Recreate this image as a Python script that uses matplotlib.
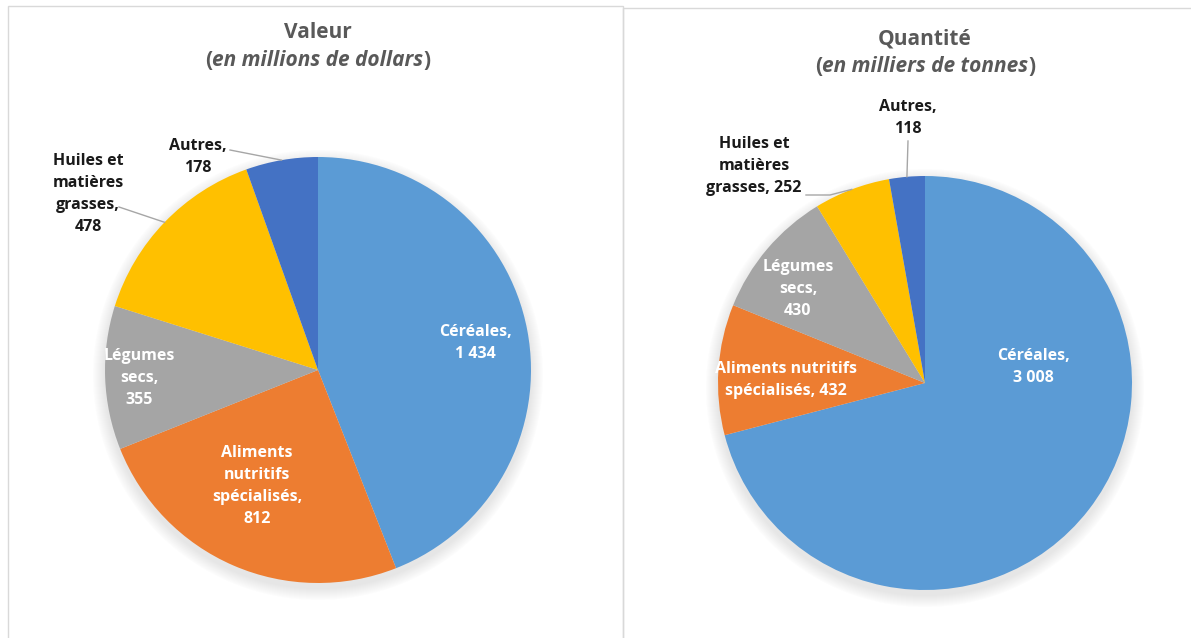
import numpy as np
import matplotlib.pyplot as plt
from matplotlib.patches import Circle, Rectangle

W, H = 1191, 638

categories = ["Céréales", "Aliments nutritifs spécialisés", "Légumes secs",
              "Huiles et matières grasses", "Autres"]
valeur = [1434, 812, 355, 478, 178]
quantite = [3008, 432, 430, 252, 118]

colors = ["#5B9BD5", "#ED7D31", "#A5A5A5", "#FFC000", "#4472C4"]
label_colors = ["white", "white", "white", "#1a1a1a", "#1a1a1a"]

# label texts as they are broken in each chart
labels_left = ["Céréales,\n1 434", "Aliments\nnutritifs\nspécialisés,\n812",
               "Légumes\nsecs,\n355", "Huiles et\nmatières\ngrasses,\n478",
               "Autres,\n178"]
labels_right = ["Céréales,\n3 008", "Aliments nutritifs\nspécialisés, 432",
                "Légumes\nsecs,\n430", "Huiles et\nmatières\ngrasses, 252",
                "Autres,\n118"]

# layout in image pixels (x right, y down)
left_pie = dict(cx=318, cy=370, r=213)
right_pie = dict(cx=925, cy=383, r=207)
left_pos = [(475, 343), (257, 486), (139, 378), (88, 194), (198, 157)]
right_pos = [(1033, 367), (786, 380), (798, 289), (754, 166), (908, 118)]

plt.rcParams["font.family"] = ["Open Sans", "DejaVu Sans"]

fig = plt.figure(figsize=(W / 100, H / 100), dpi=100)
ax = fig.add_axes([0, 0, 1, 1])


def fy(y):
    return H - y


def edge_point(pie, values, i):
    total = float(sum(values))
    start = 90 - 360 * sum(values[:i]) / total
    mid = start - 180 * values[i] / total
    a = np.deg2rad(mid)
    return pie["cx"] + pie["r"] * np.cos(a), pie["cy"] - pie["r"] * np.sin(a)


def draw_pie(pie, values, labels, positions):
    cx, cy, r = pie["cx"], fy(pie["cy"]), pie["r"]
    # soft shadow
    for k in range(12):
        ax.add_patch(Circle((cx, cy - 5), r + 12 - k, color="#7f7f7f",
                            alpha=0.016, lw=0, zorder=1))
    ax.pie(values, colors=colors, startangle=90, counterclock=False,
           center=(cx, cy), radius=r, wedgeprops=dict(linewidth=0, zorder=2))
    for lab, (x, y), c in zip(labels, positions, label_colors):
        ax.text(x, fy(y), lab, ha="center", va="center", color=c,
                fontsize=11.5, fontweight="bold", linespacing=1.5, zorder=5)


draw_pie(left_pie, valeur, labels_left, left_pos)
draw_pie(right_pie, quantite, labels_right, right_pos)

line_kw = dict(color="#a6a6a6", lw=1, zorder=4)
# leader lines, left chart
x1, y1 = edge_point(left_pie, valeur, 4)
ax.plot([230, x1], [fy(150), fy(y1)], **line_kw)
x1, y1 = edge_point(left_pie, valeur, 3)
ax.plot([119, x1], [fy(207), fy(y1)], **line_kw)
# leader lines, right chart
x1, y1 = edge_point(right_pie, quantite, 4)
ax.plot([908, x1], [fy(141), fy(y1)], **line_kw)
x1, y1 = edge_point(right_pie, quantite, 3)
ax.plot([806, 830, x1], [fy(195), fy(195), fy(y1)], **line_kw)

# panel borders
ax.add_patch(Rectangle((8, -2), 615, fy(6) + 2, fill=False, ec="#d9d9d9",
                       lw=1, zorder=0))
ax.add_patch(Rectangle((623, -2), 600, fy(8) + 2, fill=False, ec="#d9d9d9",
                       lw=1, zorder=0))

title_kw = dict(ha="center", va="center", color="#595959", fontsize=15,
                fontweight="bold")
ax.text(318, fy(32), "Valeur", **title_kw)
ax.text(925, fy(39), "Quantité", **title_kw)

ax.set_xlim(0, W)
ax.set_ylim(0, H)
ax.set_aspect("equal")
ax.axis("off")

fig.canvas.draw()
renderer = fig.canvas.get_renderer()
for x, y, s in [(318, 61, "en millions de dollars"),
                (925, 67, "en milliers de tonnes")]:
    t = ax.text(x, fy(y), s, style="italic", **title_kw)
    bb = t.get_window_extent(renderer)
    kw = dict(title_kw)
    kw.pop("ha")
    ax.text(bb.x0, fy(y), "(", ha="right", **kw)
    ax.text(bb.x1, fy(y), ")", ha="left", **kw)

fig.savefig("out.png", dpi=100)
